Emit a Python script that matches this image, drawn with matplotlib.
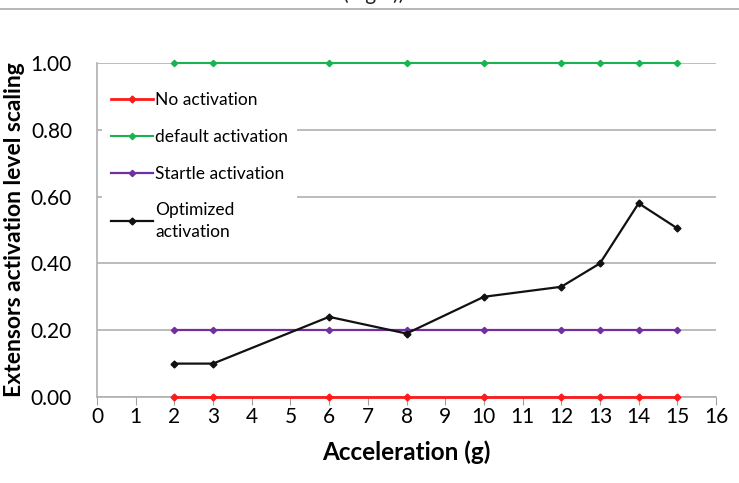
import numpy as np
import matplotlib.pyplot as plt
from matplotlib.lines import Line2D

plt.rcParams['font.family'] = ['Lato', 'DejaVu Sans']

# aceleraciones probadas (g)
accel = [2, 3, 6, 8, 10, 12, 13, 14, 15]
no_act = [0, 0, 0, 0, 0, 0, 0, 0, 0]
default_act = [1, 1, 1, 1, 1, 1, 1, 1, 1]
startle_act = [0.2, 0.2, 0.2, 0.2, 0.2, 0.2, 0.2, 0.2, 0.2]
optimized_act = [0.10, 0.10, 0.24, 0.19, 0.30, 0.33, 0.40, 0.58, 0.505]

fig = plt.figure(figsize=(7.39, 4.83), dpi=100)
ax = fig.add_axes([97/739, 1 - 397/483, (716-97)/739, (397-63)/483])

# linea gris superior y titulo cortado
fig.add_artist(Line2D([0, 1], [1 - 9/483, 1 - 9/483], color='#aaaaaa', lw=1.2))
fig.text(0.505, 1.0 + 6/483, '(Fig.4))', ha='center', va='center', fontsize=15, color='#222222')

kw = dict(clip_on=False, zorder=3)
ax.plot(accel, no_act, color='#ff1a1a', lw=2.0, marker='D', ms=3.5, label='No activation', **kw)
ax.plot(accel, default_act, color='#19b44f', lw=1.5, marker='D', ms=3.2, label='default activation', **kw)
ax.plot(accel, startle_act, color='#7030a0', lw=1.6, marker='D', ms=3.2, label='Startle activation', **kw)
ax.plot(accel, optimized_act, color='#111111', lw=1.6, marker='D', ms=3.5, label='Optimized\nactivation', **kw)

ax.set_xlim(0, 16)
ax.set_ylim(0, 1.0)
ax.set_xticks(range(0, 17))
ax.set_yticks(np.arange(0, 1.01, 0.2))
ax.set_yticklabels([f'{v:.2f}' for v in np.arange(0, 1.01, 0.2)])
ax.yaxis.grid(True, color='#b0b0b0', lw=1.2)
ax.set_axisbelow(True)
for s in ['top', 'right']:
    ax.spines[s].set_visible(False)
ax.spines['left'].set_color('#b0b0b0')
ax.spines['bottom'].set_color('#b0b0b0')
ax.spines['left'].set_linewidth(1.2)
ax.spines['bottom'].set_linewidth(1.2)
ax.tick_params(axis='x', length=6, color='#a0a0a0', labelsize=15, pad=1)
ax.tick_params(axis='y', length=0, labelsize=15, pad=18)

ax.set_xlabel('Acceleration (g)', fontsize=17.5, fontweight='bold', labelpad=10)
ax.set_ylabel('Extensors activation level scaling', fontsize=16.5, fontweight='bold', labelpad=4)

leg = ax.legend(loc='upper left', bbox_to_anchor=(0.0, 0.955), fontsize=12.5,
                frameon=True, fancybox=False, edgecolor='white', framealpha=1,
                handlelength=2.4, handletextpad=0.15, labelspacing=1.2, borderpad=0.5,
                borderaxespad=0.3)
leg.get_frame().set_linewidth(0)
leg.set_zorder(5)
for t in leg.get_texts():
    t.set_linespacing(1.4)

fig.savefig('out.png', dpi=100)
